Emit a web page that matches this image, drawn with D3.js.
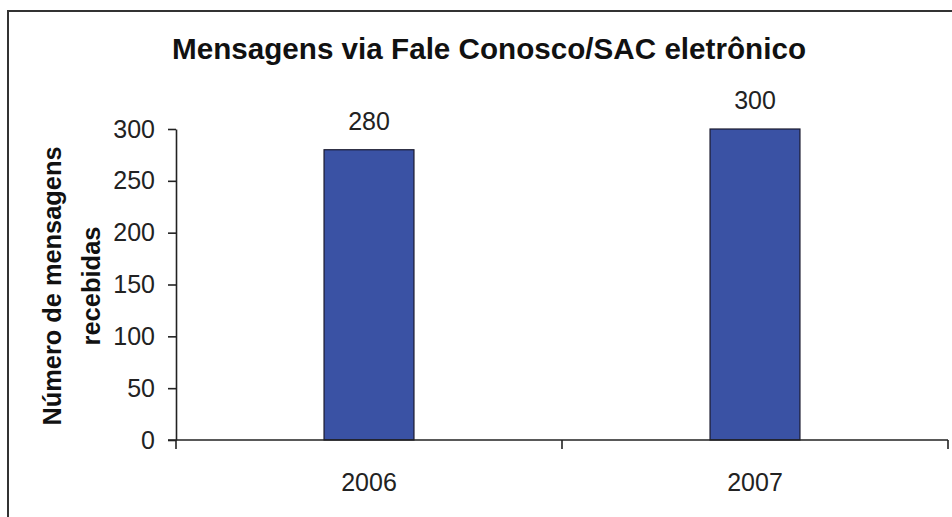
<!DOCTYPE html>
<html>
<head>
<meta charset="utf-8">
<script src="https://cdn.jsdelivr.net/npm/d3@7"></script>
<style>
  body { margin: 0; background: #fff; }
  text { font-family: Arial, "Liberation Sans", sans-serif; fill: #222; }
</style>
</head>
<body>
<div id="chart"></div>
<script>
// data
var categories = ["2006", "2007"];
var values = [280, 300];
var yTicks = [0, 50, 100, 150, 200, 250, 300];
var title = "Mensagens via Fale Conosco/SAC eletrônico";
var yTitle = ["Número de mensagens", "recebidas"];

var width = 952,
	height = 517;

var svg = d3.select("#chart").append("svg")
	.attr("width", width)
	.attr("height", height)
	.style("background-color", "white");

// outer frame (runs off the right and bottom edges)
svg.append("rect")
	.attr("x", 8).attr("y", 11)
	.attr("width", 1000).attr("height", 600)
	.style("fill", "none")
	.style("stroke", "#333")
	.style("stroke-width", 2);

var x = d3.scaleBand()
	.domain(categories)
	.range([176, 948]);

var y = d3.scaleLinear()
	.domain([0, 300])
	.range([440, 129]);

var barW = x.bandwidth() * 0.233;

// title
svg.append("text")
	.attr("x", 489).attr("y", 59)
	.attr("text-anchor", "middle")
	.attr("textLength", 634)
	.attr("lengthAdjust", "spacingAndGlyphs")
	.style("font-size", "29px")
	.style("font-weight", "bold")
	.style("fill", "#111")
	.text(title);

// y axis title, two lines
var yLens = [279, 119];
var yt = svg.append("text")
	.attr("transform", "translate(61,286) rotate(-90)")
	.attr("text-anchor", "middle")
	.style("font-size", "25px")
	.style("font-weight", "bold")
	.style("fill", "#111");
yt.selectAll("tspan")
	.data(yTitle)
	.enter().append("tspan")
	.attr("x", 0)
	.attr("dy", function(d, i) { return i ? 39 : 0; })
	.attr("textLength", function(d, i) { return yLens[i]; })
	.attr("lengthAdjust", "spacingAndGlyphs")
	.text(function(d) { return d; });

// bars
svg.selectAll(".bar")
	.data(values)
	.enter().append("rect")
	.attr("class", "bar")
	.attr("x", function(d, i) { return x(categories[i]) + (x.bandwidth() - barW) / 2; })
	.attr("y", function(d) { return y(d); })
	.attr("width", barW)
	.attr("height", function(d) { return y(0) - y(d); })
	.style("fill", "#3a52a4")
	.style("stroke", "#1a1a2e")
	.style("stroke-width", 1.2);

// value labels
svg.selectAll(".val")
	.data(values)
	.enter().append("text")
	.attr("class", "val")
	.attr("x", function(d, i) { return x(categories[i]) + x.bandwidth() / 2; })
	.attr("y", function(d) { return y(d) - 20; })
	.attr("text-anchor", "middle")
	.style("font-size", "25px")
	.text(function(d) { return d; });

// y axis
var yAxis = svg.append("g")
	.attr("transform", "translate(176,0)")
	.call(d3.axisLeft(y).tickValues(yTicks).tickSize(8).tickPadding(13).tickSizeOuter(0));
yAxis.select(".domain").style("stroke", "#222").style("stroke-width", 1.6);
yAxis.selectAll(".tick line").style("stroke", "#222").style("stroke-width", 1.6);
yAxis.selectAll(".tick text")
	.style("font-size", "25px")
	.style("font-family", "Arial, 'Liberation Sans', sans-serif")
	.style("fill", "#222");

// x axis: ticks at band edges
var edges = categories.map(function(c) { return x(c); }).concat([x.range()[1]]);
var xAxis = svg.append("g").attr("transform", "translate(0,440)");
xAxis.append("line")
	.attr("x1", 168).attr("x2", x.range()[1])
	.style("stroke", "#222").style("stroke-width", 1.6);
xAxis.selectAll(".edge")
	.data(edges)
	.enter().append("line")
	.attr("class", "edge")
	.attr("x1", function(d) { return d; }).attr("x2", function(d) { return d; })
	.attr("y1", 0).attr("y2", 9)
	.style("stroke", "#222").style("stroke-width", 1.6);
xAxis.selectAll(".lbl")
	.data(categories)
	.enter().append("text")
	.attr("class", "lbl")
	.attr("x", function(d) { return x(d) + x.bandwidth() / 2; })
	.attr("y", 51)
	.attr("text-anchor", "middle")
	.style("font-size", "25px")
	.text(function(d) { return d; });
</script>
</body>
</html>
